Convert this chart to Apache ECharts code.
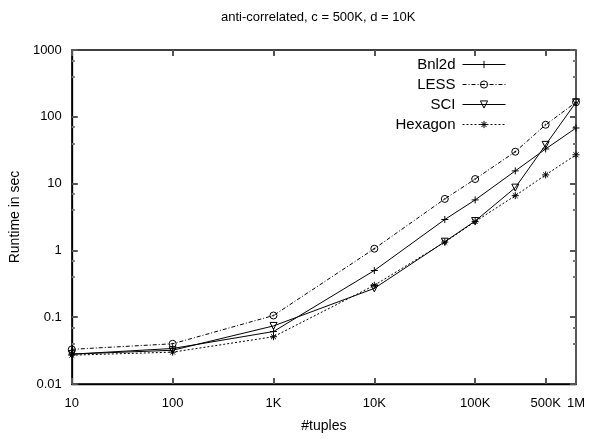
<!DOCTYPE html>
<html>
<head>
<meta charset="utf-8">
<script src="https://cdn.jsdelivr.net/npm/echarts@6/dist/echarts.min.js"></script>
<style>
  html, body { margin: 0; padding: 0; background: #fff; }
  #main { width: 589px; height: 439px; }
</style>
</head>
<body>
<div id="main"></div>
<script>
// tuple counts on the x axis
var tuples = [10, 100, 1000, 10000, 50000, 100000, 250000, 500000, 1000000];
// runtimes in sec
var bnl2d   = [0.028, 0.034, 0.061, 0.50, 2.9, 5.7, 15.5, 33, 68];
var less    = [0.033, 0.040, 0.106, 1.06, 5.9, 11.7, 30, 76, 165];
var sci     = [0.028, 0.032, 0.074, 0.27, 1.35, 2.75, 8.7, 38, 165];
var hexagon = [0.027, 0.030, 0.051, 0.30, 1.33, 2.7, 6.6, 13.5, 27];

var xTicks = [10, 100, 1000, 10000, 100000, 500000, 1000000];
var xExtraLabels = [500000]; // not a power of ten, so labelled by its own axis
var xTickLabels = {10: '10', 100: '100', 1000: '1K', 10000: '10K', 100000: '100K', 500000: '500K', 1000000: '1M'};
var yTicks = [0.01, 0.1, 1, 10, 100, 1000];

var font = 'Liberation Sans, Arial, Helvetica, sans-serif';

function pairs(ys){
  var out = [];
  for(var i = 0; i < tuples.length; i++){
    out.push([tuples[i], ys[i]]);
  }
  return out;
}

// symbols drawn as open outlines like gnuplot points
var plusSym = 'path://M0,5 L10,5 M5,0 L5,10';
var circSym = 'path://M0,5 A5,5 0 1,1 10,5 A5,5 0 1,1 0,5 Z M4.3,5 A0.7,0.7 0 1,1 5.7,5 A0.7,0.7 0 1,1 4.3,5 Z';
var triSym = 'path://M0,0 L10,0 L5,9 Z';
var starSym = 'path://M0,5 L10,5 M5,0 L5,10 M1.5,1.5 L8.5,8.5 M8.5,1.5 L1.5,8.5';

function mkSeries(name, ys, sym, size, dash){
  return {
    name: name,
    type: 'line',
    xAxisIndex: 0,
    yAxisIndex: 0,
    data: pairs(ys),
    symbol: sym,
    symbolSize: size,
    showSymbol: true,
    lineStyle: { color: '#000', width: 1, type: dash },
    itemStyle: { color: 'rgba(0,0,0,0)', borderColor: '#000', borderWidth: 1 },
    emphasis: { disabled: true },
    animation: false
  };
}

function xLabel(v){ return xTickLabels[Math.round(v)] || ''; }
function yLabel(v){ return String(+(+v).toPrecision(3)); }

var majorTick = { show: true, inside: true, length: 6, lineStyle: { color: '#555', width: 2 } };
var minorTick = { show: true, splitNumber: 3, length: 3, lineStyle: { color: '#777', width: 2 } };
var labelFont = { fontFamily: font, fontSize: 13, color: '#000' };

var myChart = echarts.init(document.getElementById('main'));

var option = {
  backgroundColor: '#fff',
  animation: false,
  title: {
    text: 'anti-correlated, c = 500K, d = 10K',
    left: 216,
    top: 6,
    textStyle: { fontFamily: font, fontSize: 13, fontWeight: 'normal', color: '#000' }
  },
  legend: {
    orient: 'vertical',
    right: 78,
    top: 52,
    align: 'right',
    itemGap: 5,
    itemWidth: 43,
    itemHeight: 9,
    data: ['Bnl2d', 'LESS', 'SCI', 'Hexagon'],
    lineStyle: { width: 1 },
    itemStyle: { borderWidth: 1 },
    textStyle: { fontFamily: font, fontSize: 15, color: '#000', width: 64, align: 'right', padding: [0, 2, 0, 0] },
    selectedMode: false
  },
  grid: { left: 68, right: 13, top: 50, bottom: 55, show: true, borderColor: '#000', borderWidth: 1.3 },
  xAxis: [{
    type: 'log',
    logBase: 10,
    min: 10,
    max: 1000000,
    name: '#tuples',
    nameLocation: 'middle',
    nameGap: 35,
    nameTextStyle: { fontFamily: font, fontSize: 14, color: '#000' },
    axisLine: { show: true, lineStyle: { color: '#000', width: 1.3 } },
    axisTick: Object.assign({ customValues: xTicks }, majorTick),
    axisLabel: Object.assign({ margin: 13, formatter: xLabel }, labelFont),
    splitLine: { show: false }
  }, {
    // only carries the 500K label
    type: 'log',
    logBase: 10,
    min: 10,
    max: 1000000,
    position: 'bottom',
    axisLine: { show: false },
    axisTick: { show: false },
    axisLabel: Object.assign({ customValues: xExtraLabels, margin: 13, formatter: xLabel }, labelFont),
    splitLine: { show: false }
  }, {
    // mirrored ticks on top
    type: 'log',
    logBase: 10,
    min: 10,
    max: 1000000,
    position: 'top',
    axisLine: { show: false },
    axisTick: Object.assign({ customValues: xTicks }, majorTick),
    axisLabel: { show: false },
    splitLine: { show: false }
  }],
  yAxis: [{
    type: 'log',
    logBase: 10,
    min: 0.01,
    max: 1000,
    name: 'Runtime in sec',
    nameLocation: 'middle',
    nameGap: 47,
    nameTextStyle: { fontFamily: font, fontSize: 14, color: '#000' },
    axisLine: { show: true, lineStyle: { color: '#000', width: 1.3 } },
    axisTick: Object.assign({ customValues: yTicks }, majorTick),
    minorTick: minorTick,
    axisLabel: Object.assign({ margin: 10, formatter: yLabel }, labelFont),
    splitLine: { show: false }
  }, {
    // mirrored ticks on the right
    type: 'log',
    logBase: 10,
    min: 0.01,
    max: 1000,
    position: 'right',
    axisLine: { show: false },
    axisTick: Object.assign({ customValues: yTicks }, majorTick),
    minorTick: minorTick,
    axisLabel: { show: false },
    splitLine: { show: false }
  }],
  series: [
    mkSeries('Bnl2d', bnl2d, plusSym, 7, 'solid'),
    mkSeries('LESS', less, circSym, 7, [4, 2, 1, 2]),
    mkSeries('SCI', sci, triSym, 7, 'solid'),
    mkSeries('Hexagon', hexagon, starSym, 7, [2, 2])
  ]
};

myChart.setOption(option);
</script>
</body>
</html>
